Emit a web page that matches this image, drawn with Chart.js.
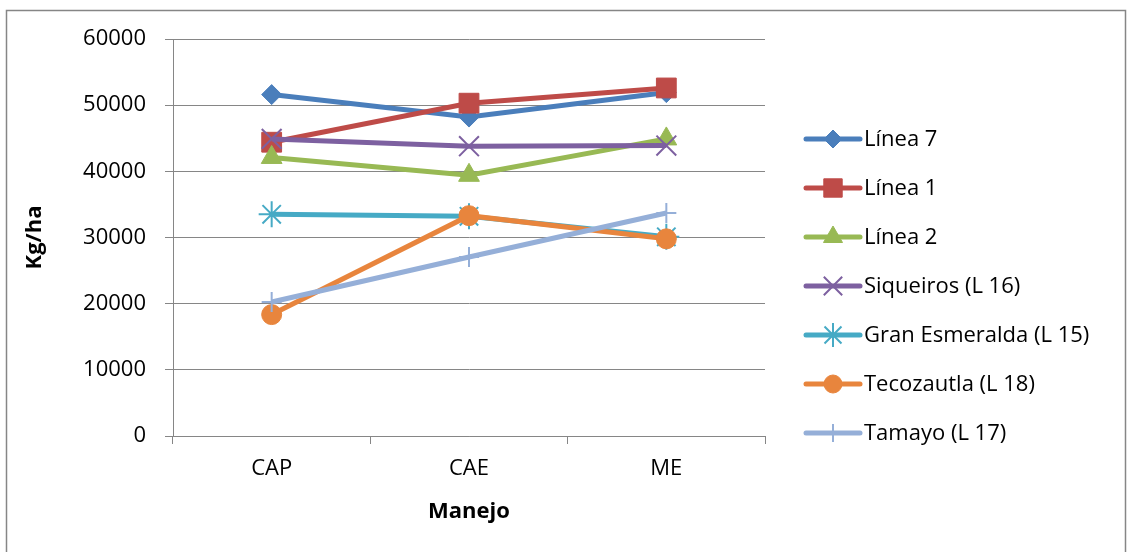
<!DOCTYPE html>
<html>
<head>
<meta charset="utf-8">
<script src="https://cdn.jsdelivr.net/npm/chart.js@4"></script>
<style>
    body { margin: 0; background: #fff; }
    #wrap { width: 1128px; height: 552px; position: relative; }
</style>
</head>
<body>
<div id="wrap"><canvas id="grafica"></canvas></div>
<script>
const manejo = ['CAP', 'CAE', 'ME'];

const linea7 = [51600, 48200, 51900];
const linea1 = [44400, 50300, 52600];
const linea2 = [42100, 39400, 44900];
const siqueiros = [44900, 43800, 43900];
const granEsmeralda = [33500, 33200, 30100];
const tecozautla = [18350, 33300, 29800];
const tamayo = [20250, 27050, 33700];

const nombres = ['Línea 7', 'Línea 1', 'Línea 2', 'Siqueiros (L 16)', 'Gran Esmeralda (L 15)', 'Tecozautla (L 18)', 'Tamayo (L 17)'];
const yTicks = [0, 10000, 20000, 30000, 40000, 50000, 60000];

const fuente = "'Open Sans', 'Noto Sans', sans-serif";
const gris = '#868686';

function serie(idx, data, color, estilo, radio, borde, relleno) {
    return {
        label: nombres[idx],
        data: data,
        borderColor: color,
        backgroundColor: color,
        borderWidth: 5,
        pointStyle: estilo,
        pointRadius: radio,
        pointHoverRadius: radio,
        pointBorderWidth: borde,
        pointBackgroundColor: relleno ? color : 'rgba(0,0,0,0)',
        pointBorderColor: color,
        tension: 0,
        fill: false,
        order: 6 - idx
    };
}

const datasets = [
    serie(0, linea7, '#4A7EBB', 'rectRot', 10, 1, true),
    serie(1, linea1, '#BE4B48', 'rect', 14, 1, true),
    serie(2, linea2, '#98B954', 'triangle', 12, 1, true),
    serie(3, siqueiros, '#7D60A0', 'crossRot', 14, 2, false),
    serie(4, granEsmeralda, '#46AAC5', 'star', 13, 2, false),
    serie(5, tecozautla, '#E8853D', 'circle', 10, 1, true),
    serie(6, tamayo, '#95AFD8', 'cross', 10, 2, false)
];

// marco exterior y leyenda con linea + marcador
const marcoLeyenda = {
    id: 'marcoLeyenda',
    afterDraw(chart) {
        const ctx = chart.ctx;
        ctx.save();
        ctx.strokeStyle = gris;
        ctx.lineWidth = 1.5;
        ctx.strokeRect(6.5, 10.5, 1119, 600);

        const x0 = 806, x1 = 860, yIni = 139, paso = 49;
        chart.data.datasets.forEach((ds, i) => {
            const y = yIni + i * paso;
            ctx.strokeStyle = ds.borderColor;
            ctx.lineWidth = 5;
            ctx.lineCap = 'round';
            ctx.beginPath();
            ctx.moveTo(x0, y);
            ctx.lineTo(x1, y);
            ctx.stroke();
            ctx.fillStyle = ds.pointBackgroundColor;
            ctx.strokeStyle = ds.pointBorderColor;
            ctx.lineWidth = ds.pointBorderWidth;
            ctx.lineCap = 'butt';
            if (Chart.helpers && Chart.helpers.drawPoint) {
                Chart.helpers.drawPoint(ctx, {
                    pointStyle: ds.pointStyle,
                    radius: ds.pointRadius - 1,
                    rotation: 0,
                    borderWidth: ds.pointBorderWidth
                }, (x0 + x1) / 2, y);
            }
            ctx.fillStyle = '#000';
            ctx.font = '22px ' + fuente;
            ctx.textBaseline = 'middle';
            ctx.textAlign = 'left';
            ctx.fillText(ds.label, 864, y + 1);
        });
        ctx.restore();
    }
};

new Chart(document.getElementById('grafica'), {
    type: 'line',
    data: { labels: manejo, datasets: datasets },
    options: {
        responsive: true,
        maintainAspectRatio: false,
        animation: false,
        layout: { padding: { left: 0, top: 39, right: 363, bottom: 0 } },
        plugins: {
            legend: { display: false },
            tooltip: { enabled: false }
        },
        scales: {
            x: {
                type: 'category',
                offset: true,
                grid: { offset: true, drawOnChartArea: false, drawTicks: true, tickLength: 8, color: gris, lineWidth: 1 },
                border: { color: gris, width: 1 },
                ticks: { color: '#000', font: { family: fuente, size: 22 }, padding: 12 },
                title: { display: true, text: 'Manejo', color: '#000', font: { family: fuente, size: 22, weight: 'bold' }, padding: { top: 27, bottom: 27 } },
                afterFit(scale) { scale.height = 116; }
            },
            y: {
                min: 0,
                max: 60000,
                afterBuildTicks(scale) { scale.ticks = yTicks.map(v => ({ value: v })); },
                grid: { color: gris, lineWidth: 1, tickLength: 8 },
                border: { color: gris, width: 1 },
                ticks: {
                    color: '#000',
                    font: { family: fuente, size: 22 },
                    padding: 19,
                    callback: (v) => String(v)
                },
                title: { display: true, text: 'Kg/ha', color: '#000', font: { family: fuente, size: 22, weight: 'bold' }, padding: { top: 22, bottom: 22 } },
                afterFit(scale) { scale.width = 173; }
            }
        }
    },
    plugins: [marcoLeyenda]
});
</script>
</body>
</html>
